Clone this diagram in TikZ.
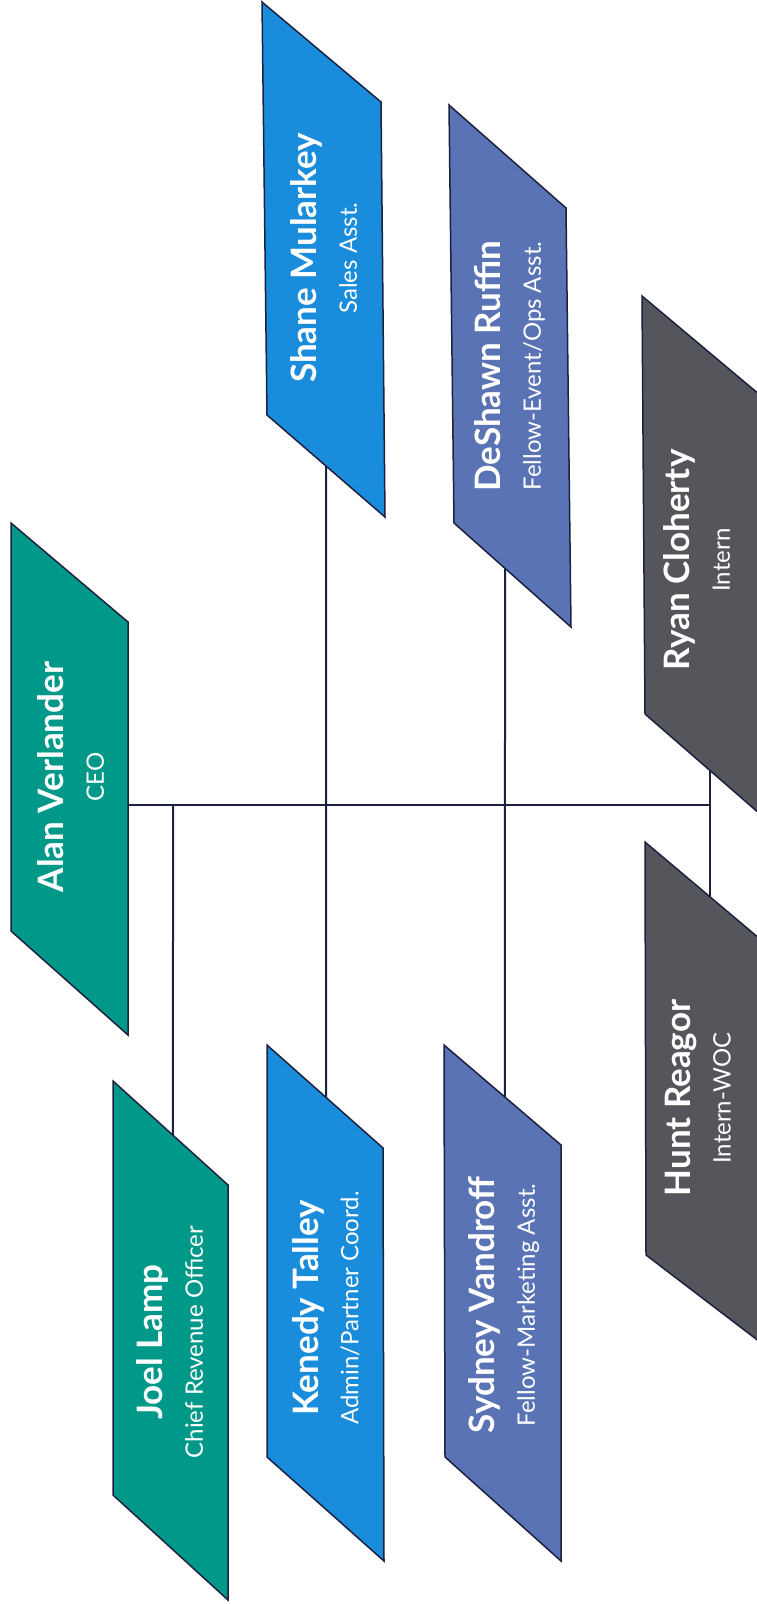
\documentclass[tikz,border=0pt]{standalone}
\usepackage{fontspec}
\setmainfont{Lato}
\usetikzlibrary{calc}
\definecolor{cgreen}{HTML}{009888}
\definecolor{cblue}{HTML}{198CDC}
\definecolor{cslate}{HTML}{5A73B5}
\definecolor{cgray}{HTML}{55565C}
\definecolor{cedge}{HTML}{1C2140}
\tikzset{
  box/.style={draw=cedge, line width=1.5pt, line join=miter},
  conn/.style={draw=cedge, line width=2pt},
  lbl/.style={rotate=90, align=center, text=white, inner sep=0pt,
    font=\fontsize{24}{40}\selectfont},
}
\newcommand\nm[1]{{\fontsize{35}{40}\selectfont\bfseries #1}}
\begin{document}
\begin{tikzpicture}[x=1pt,y=-1pt]
\useasboundingbox (0,0) rectangle (757,1604);
\fill[white] (0,0) rectangle (757,1604);
% Alan
\path[box, fill=cgreen] (11,523) coordinate (alanTL) -- (128,622) coordinate (alanTR)
  -- (128,1035) coordinate (alanBR) -- (11,931) coordinate (alanBL) -- cycle;
\node[lbl] (alan) at (71,777) {\nm{Alan Verlander}\\CEO};
% Joel
\path[box, fill=cgreen] (113,1081) coordinate (joelTL) -- (228,1185) coordinate (joelTR)
  -- (228,1600) coordinate (joelBR) -- (113,1495) coordinate (joelBL) -- cycle;
\node[lbl] (joel) at (170,1342) {\nm{Joel Lamp}\\Chief Revenue Officer};
% Kenedy
\path[box, fill=cblue] (267,1045) coordinate (kenTL) -- (383,1148) coordinate (kenTR)
  -- (384,1561) coordinate (kenBR) -- (267,1457) coordinate (kenBL) -- cycle;
\node[lbl] (ken) at (326,1308) {\nm{Kenedy Talley}\\Admin/Partner Coord.};
% Sydney
\path[box, fill=cslate] (444,1045) coordinate (sydTL) -- (561,1145) coordinate (sydTR)
  -- (561,1561) coordinate (sydBR) -- (445,1457) coordinate (sydBL) -- cycle;
\node[lbl] (syd) at (504,1305) {\nm{Sydney Vandroff}\\Fellow-Marketing Asst.};
% Shane
\path[box, fill=cblue] (262,2) coordinate (shaTL) -- (381,102) coordinate (shaTR)
  -- (385,517) coordinate (shaBR) -- (267,415) coordinate (shaBL) -- cycle;
\node[lbl] (sha) at (324,258) {\nm{Shane Mularkey}\\Sales Asst.};
% DeShawn
\path[box, fill=cslate] (449,105) coordinate (desTL) -- (566,208) coordinate (desTR)
  -- (571,627) coordinate (desBR) -- (454,523) coordinate (desBL) -- cycle;
\node[lbl] (des) at (510,366) {\nm{DeShawn Ruffin}\\Fellow-Event/Ops Asst.};
% Ryan
\path[box, fill=cgray] (642,296) coordinate (ryaTL) -- (760,395) coordinate (ryaTR)
  -- (760,814) coordinate (ryaBR) -- (645,714) coordinate (ryaBL) -- cycle;
\node[lbl] (rya) at (697,560) {\nm{Ryan Cloherty}\\Intern};
% Hunt
\path[box, fill=cgray] (645,842) coordinate (hunTL) -- (760,939) coordinate (hunTR)
  -- (760,1342) coordinate (hunBR) -- (646,1255) coordinate (hunBL) -- cycle;
\node[lbl] (hun) at (698,1098) {\nm{Hunt Reagor}\\Intern-WOC};
% connectors
\coordinate (alanR) at (128,805);
\coordinate (hubJ) at (173,805);
\coordinate (hubK) at (326,805);
\coordinate (hubS) at (505,805);
\coordinate (hubI) at (710,805);
\draw[conn] (alanR) -- (hubI);
\draw[conn] (hubJ) -- ($(joelTL)!0.5217!(joelTR)$);
\draw[conn] ($(shaBL)!0.5!(shaBR)$) -- ($(kenTL)!0.5086!(kenTR)$);
\draw[conn] ($(desBL)!0.436!(desBR)$) -- ($(sydTL)!0.521!(sydTR)$);
\draw[conn] ($(ryaBL)!0.565!(ryaBR)$) -- ($(hunTL)!0.565!(hunTR)$);
\end{tikzpicture}
\end{document}
